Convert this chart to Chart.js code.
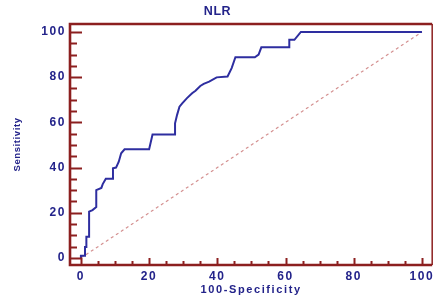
<!DOCTYPE html>
<html>
<head>
<meta charset="utf-8">
<title>NLR</title>
<script src="https://cdn.jsdelivr.net/npm/chart.js@4/dist/chart.umd.min.js"></script>
<style>
    html, body { margin: 0; padding: 0; background: #ffffff; }
    #wrap { width: 436px; height: 297px; }
</style>
</head>
<body>
<div id="wrap"><canvas id="roc"></canvas></div>
<script>
// ============================================================================
// Data
// ============================================================================

const chartTitle = 'NLR';
const xAxisLabel = '100-Specificity';
const yAxisLabel = 'Sensitivity';

// ROC curve vertices: 100-Specificity (x) and Sensitivity (y)
const rocSpec = [0, 0, 1.2, 1.2, 1.6, 1.6, 2.4, 2.4, 3.4, 4.5, 4.5, 6, 6.4, 7.3, 9.4, 9.4,
    10.3, 11.1, 11.8, 12.8, 20, 21, 27.6, 27.6, 28.2, 28.9, 29.7, 31.1, 32.6, 33.6, 35, 36,
    37.6, 39.8, 43.0, 44.2, 45.3, 51, 52.1, 52.9, 61.1, 61.1, 62.6, 64.5, 100];
const rocSens = [0, 1, 1, 4.9, 4.9, 9.4, 9.4, 20.5, 21.2, 22.5, 30, 31, 32.7, 35, 35, 39.7,
    40, 42.6, 46.3, 48.1, 48.1, 54.6, 54.6, 59.6, 63.3, 66.9, 68.4, 70.7, 72.9, 74, 76.1, 77,
    78, 79.9, 80.3, 84, 88.8, 88.8, 90, 93.2, 93.2, 96.5, 96.5, 100, 100];

// reference diagonal (chance line)
const diagSpec = [0, 100];
const diagSens = [0, 100];

// tick labels
const xTicks = [0, 20, 40, 60, 80, 100];
const yTicks = [0, 20, 40, 60, 80, 100];
const minorStep = 5;

// ============================================================================
// Styling
// ============================================================================

const AXIS_RED = '#8c1f1f';
const LABEL_NAVY = '#23238a';
const CURVE_BLUE = '#2e2ea0';
const DIAG_PINK = 'rgba(205, 125, 125, 0.85)';
const FONT = "'Liberation Sans', Arial, sans-serif";

/**
 * Zip two value arrays into {x, y} points
 */
function toPoints(xs, ys) {
    return xs.map((x, i) => ({ x, y: ys[i] }));
}

/**
 * Frame, inward tick marks and letter spacing (the chart spaces its text widely)
 */
const framePlugin = {
    id: 'frame',
    beforeDraw(chart) {
        chart.ctx.letterSpacing = '0.6px';
    },
    afterDatasetsDraw(chart) {
        chart.ctx.letterSpacing = '1.6px';
    },
    afterDraw(chart) {
        const { ctx, chartArea: a, scales } = chart;
        const xs = scales.x;
        const ys = scales.y;
        ctx.save();
        ctx.letterSpacing = '0px';
        ctx.strokeStyle = AXIS_RED;

        // minor + major ticks on the y axis (pointing into the plot)
        ctx.lineWidth = 2;
        for (let v = 0; v <= 100; v += minorStep) {
            const py = Math.round(ys.getPixelForValue(v)) + 0.5;
            const len = yTicks.includes(v) ? 12 : 7;
            ctx.beginPath();
            ctx.moveTo(a.left, py);
            ctx.lineTo(a.left + len, py);
            ctx.stroke();
        }
        // minor + major ticks on the x axis
        for (let v = 0; v <= 100; v += minorStep) {
            const px = Math.round(xs.getPixelForValue(v)) + 0.5;
            const len = xTicks.includes(v) ? 7 : 4;
            ctx.beginPath();
            ctx.moveTo(px, a.bottom);
            ctx.lineTo(px, a.bottom - len);
            ctx.stroke();
        }

        // frame: heavy left/bottom/top, light right
        ctx.lineWidth = 2.6;
        ctx.beginPath();
        ctx.moveTo(a.right, a.top);
        ctx.lineTo(a.left, a.top);
        ctx.lineTo(a.left, a.bottom);
        ctx.lineTo(a.right, a.bottom);
        ctx.stroke();
        ctx.lineWidth = 1.5;
        ctx.beginPath();
        ctx.moveTo(a.right, a.top);
        ctx.lineTo(a.right, a.bottom);
        ctx.stroke();
        ctx.restore();
    }
};

const canvas = document.getElementById('roc');

new Chart(canvas, {
    type: 'scatter',
    data: {
        datasets: [
            {
                label: 'ROC',
                data: toPoints(rocSpec, rocSens),
                showLine: true,
                borderColor: CURVE_BLUE,
                borderWidth: 2,
                pointRadius: 0,
                tension: 0,
                order: 0
            },
            {
                label: 'Chance',
                data: toPoints(diagSpec, diagSens),
                showLine: true,
                borderColor: DIAG_PINK,
                borderWidth: 1.2,
                borderDash: [3, 3],
                pointRadius: 0,
                order: 1
            }
        ]
    },
    options: {
        responsive: true,
        maintainAspectRatio: false,
        animation: false,
        layout: {
            padding: { left: 0, right: 1, top: 0, bottom: 0 }
        },
        plugins: {
            legend: { display: false },
            tooltip: { enabled: false },
            title: {
                display: true,
                text: chartTitle,
                color: LABEL_NAVY,
                font: { family: FONT, size: 12.5, weight: 'bold', lineHeight: 1.2 },
                padding: { top: 4, bottom: 5 }
            }
        },
        scales: {
            x: {
                type: 'linear',
                min: -3.2,
                max: 103,
                afterFit(scale) { scale.height = 32; },
                afterBuildTicks(scale) { scale.ticks = xTicks.map(value => ({ value })); },
                grid: { display: true, drawOnChartArea: false, drawTicks: false, z: 1, color: 'rgba(0,0,0,0)' },
                border: { display: false },
                ticks: {
                    z: 1,
                    color: LABEL_NAVY,
                    padding: 4,
                    maxRotation: 0,
                    font: { family: FONT, size: 12, weight: 'bold' }
                },
                title: {
                    display: true,
                    text: xAxisLabel,
                    color: LABEL_NAVY,
                    font: { family: FONT, size: 11, weight: 'bold', lineHeight: 1.2 },
                    padding: { top: 0, bottom: 0 }
                }
            },
            y: {
                type: 'linear',
                min: -3.1,
                max: 103.5,
                afterFit(scale) { scale.width = 70; },
                afterBuildTicks(scale) { scale.ticks = yTicks.map(value => ({ value })); },
                grid: { display: true, drawOnChartArea: false, drawTicks: false, color: 'rgba(0,0,0,0)' },
                border: { display: false },
                ticks: {
                    z: 1,
                    color: LABEL_NAVY,
                    padding: 4,
                    font: { family: FONT, size: 12, weight: 'bold' }
                },
                title: {
                    display: true,
                    text: yAxisLabel,
                    color: LABEL_NAVY,
                    font: { family: FONT, size: 9.5, weight: 'bold', lineHeight: 1.2 },
                    padding: { top: 11.3, bottom: 0 }
                }
            }
        }
    },
    plugins: [framePlugin]
});
</script>
</body>
</html>
